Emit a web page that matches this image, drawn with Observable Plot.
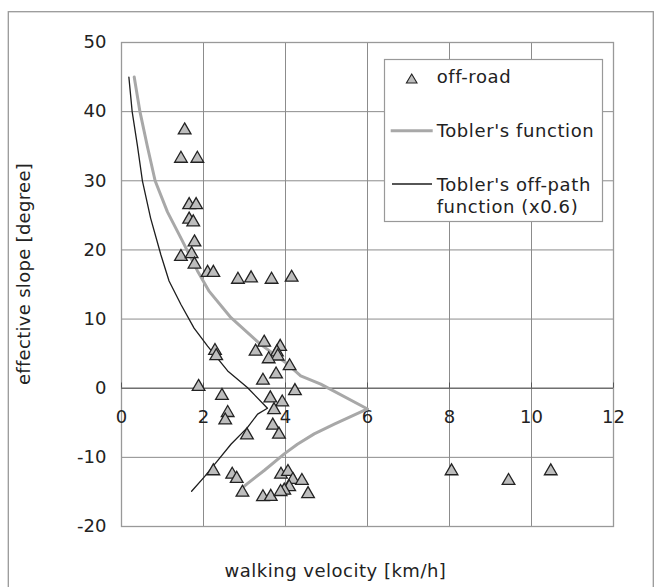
<!DOCTYPE html>
<html>
<head>
<meta charset="utf-8">
<script src="https://cdn.jsdelivr.net/npm/d3@7"></script>
<script src="https://cdn.jsdelivr.net/npm/@observablehq/plot@0.6"></script>
<style>
  html, body { margin: 0; padding: 0; background: #fff; }
  #wrap { position: relative; width: 654px; height: 587px; overflow: hidden; font-family: "DejaVu Sans", Verdana, sans-serif; }
  #wrap > svg { position: absolute; left: 0; top: 0; }
  #overlay { pointer-events: none; }
</style>
</head>
<body>
<div id="wrap"></div>
<script>
// ---- tick labels ----
const xTicks = [0, 2, 4, 6, 8, 10, 12];
const yTicks = [-20, -10, 0, 10, 20, 30, 40, 50];

// ---- off-road observations: walking velocity [km/h] and effective slope [degree] ----
const offRoadVelocity = [
  1.54, 1.45, 1.85, 1.65, 1.82, 1.65, 1.75, 1.78, 1.45, 1.71, 1.78,
  2.10, 2.24, 2.84, 3.16, 3.66, 4.15,
  3.48, 3.27, 3.87, 3.79, 3.81, 3.59, 4.10, 3.77, 3.45, 4.23,
  2.28, 2.31, 1.88, 2.45, 3.63, 3.92, 3.72, 2.59, 2.53, 3.69, 3.84, 3.06,
  2.24, 2.70, 2.81, 2.95, 3.45, 3.64, 3.89, 4.06, 4.18, 4.40, 4.09, 3.97, 3.88, 4.55,
  8.05, 9.44, 10.47
];
const offRoadSlope = [
  37.6, 33.5, 33.5, 26.8, 26.8, 24.7, 24.3, 21.4, 19.3, 19.7, 18.2,
  17.0, 17.0, 16.0, 16.2, 16.0, 16.3,
  6.9, 5.6, 6.3, 5.5, 4.9, 4.5, 3.5, 2.3, 1.4, -0.1,
  5.7, 4.95, 0.5, -0.8, -1.15, -1.75, -2.85, -3.27, -4.35, -5.1, -6.4, -6.5,
  -11.7, -12.2, -12.8, -14.8, -15.45, -15.4, -12.2, -11.8, -12.95, -13.1, -14.0, -14.5, -14.7, -15.0,
  -11.7, -13.1, -11.7
];

// ---- Tobler's function ----
const toblerVelocity = [0.31, 0.45, 0.63, 0.82, 1.12, 1.45, 1.85, 2.14, 2.67, 3.40, 4.05, 4.37, 4.86, 6.00, 5.19, 4.70, 4.29, 3.97, 3.48, 3.07, 2.99];
const toblerSlope    = [45.0, 40.0, 35.0, 30.0, 25.5, 21.7, 17.0, 14.0, 10.2, 6.3, 3.5, 1.8, 0.6, -3.0, -5.2, -6.6, -8.1, -9.5, -11.9, -13.8, -14.2];

// ---- Tobler's off-path function (x0.6) ----
const offPathVelocity = [0.18, 0.26, 0.39, 0.51, 0.71, 0.96, 1.16, 1.45, 1.77, 2.10, 2.59, 3.07, 3.56, 3.32, 3.07, 2.67, 2.34, 2.01, 1.71];
const offPathSlope    = [45.0, 40.0, 35.0, 30.0, 24.6, 19.3, 15.5, 12.1, 8.7, 6.1, 2.5, 0.1, -2.9, -3.75, -5.7, -8.1, -10.5, -12.9, -14.9];

const points = offRoadVelocity.map((v, i) => ({v, s: offRoadSlope[i]}));
const tobler = toblerVelocity.map((v, i) => ({v, s: toblerSlope[i]}));
const offPath = offPathVelocity.map((v, i) => ({v, s: offPathSlope[i]}));

const gridColor = "#8c8c8c";
const textColor = "#222";

const chart = Plot.plot({
  width: 654,
  height: 587,
  marginLeft: 121,
  marginRight: 41,
  marginTop: 42,
  marginBottom: 61,
  x: {domain: [0, 12], axis: null},
  y: {domain: [-20, 50]},
  style: {fontFamily: "DejaVu Sans, Verdana, sans-serif", fontSize: "18px", color: textColor, background: "transparent"},
  marks: [
    Plot.gridX(xTicks, {stroke: gridColor, strokeOpacity: 1, strokeWidth: 1}),
    Plot.gridY(yTicks, {stroke: gridColor, strokeOpacity: 1, strokeWidth: 1}),
    Plot.frame({stroke: "#999", strokeWidth: 1.3}),
    Plot.ruleY([0], {stroke: "#555", strokeWidth: 1}),
    Plot.ruleX(xTicks, {x: d => d, y1: 0, y2: 0.75, stroke: "#555", strokeWidth: 1}),
    Plot.axisY(yTicks, {tickSize: 0, tickPadding: 15, label: null, fontSize: 18, fill: textColor, tickFormat: d => String(d), style: {letterSpacing: "0.5px"}}),
    Plot.text(xTicks, {x: d => d, y: () => 0, dy: 29, text: d => String(d), fontSize: 18, fill: textColor}),
    Plot.line(tobler, {x: "v", y: "s", stroke: "#a8a8a8", strokeWidth: 3, curve: "linear"}),
    Plot.line(offPath, {x: "v", y: "s", stroke: "#1e1e1e", strokeWidth: 1.3, curve: "linear"}),
    Plot.dot(points, {x: "v", y: "s", symbol: "triangle", r: 4.7, dy: 2, fill: "#bdbdbd", stroke: "#222", strokeWidth: 1.3})
  ]
});

const wrap = document.getElementById("wrap");
wrap.appendChild(chart);

// overlay: outer border, axis titles, legend
const ns = "http://www.w3.org/2000/svg";
const ov = d3.select(wrap).append("svg")
  .attr("id", "overlay")
  .attr("xmlns", ns)
  .attr("width", 654).attr("height", 587)
  .style("font-family", "DejaVu Sans, Verdana, sans-serif");

ov.append("rect")
  .attr("x", 8.3).attr("y", 11.7).attr("width", 645).attr("height", 600)
  .attr("fill", "none").attr("stroke", "#999").attr("stroke-width", 1.3);

ov.append("text")
  .attr("x", 335.5).attr("y", 576.5)
  .attr("text-anchor", "middle")
  .attr("font-size", 18).attr("fill", textColor)
  .style("letter-spacing", "0.5px")
  .text("walking velocity [km/h]");

ov.append("text")
  .attr("transform", "translate(29.5,274) rotate(-90)")
  .attr("text-anchor", "middle")
  .attr("font-size", 18).attr("fill", textColor)
  .style("letter-spacing", "0.3px")
  .text("effective slope [degree]");

// legend
const lg = ov.append("g").attr("transform", "translate(384,59)");
lg.append("rect").attr("x", 0.5).attr("y", 0.5).attr("width", 218).attr("height", 162)
  .attr("fill", "#fff").attr("stroke", "#999").attr("stroke-width", 1.2);
lg.append("path").attr("d", "M27.7,15 L33,24 L22.4,24 Z")
  .attr("fill", "#bdbdbd").attr("stroke", "#222").attr("stroke-width", 1.1);
lg.append("line").attr("x1", 6.7).attr("x2", 48.7).attr("y1", 71.7).attr("y2", 71.7)
  .attr("stroke", "#a8a8a8").attr("stroke-width", 3);
lg.append("line").attr("x1", 8).attr("x2", 48).attr("y1", 125).attr("y2", 125)
  .attr("stroke", "#1e1e1e").attr("stroke-width", 1.3);
const legendText = [
  ["off-road", 23.7],
  ["Tobler's function", 77.7],
  ["Tobler's off-path", 131.7],
  ["function (x0.6)", 154.3]
];
for (const [t, y] of legendText) {
  lg.append("text").attr("x", 52.7).attr("y", y)
    .attr("font-size", 18).attr("fill", textColor)
    .style("letter-spacing", "0.6px")
    .text(t);
}
</script>
</body>
</html>
